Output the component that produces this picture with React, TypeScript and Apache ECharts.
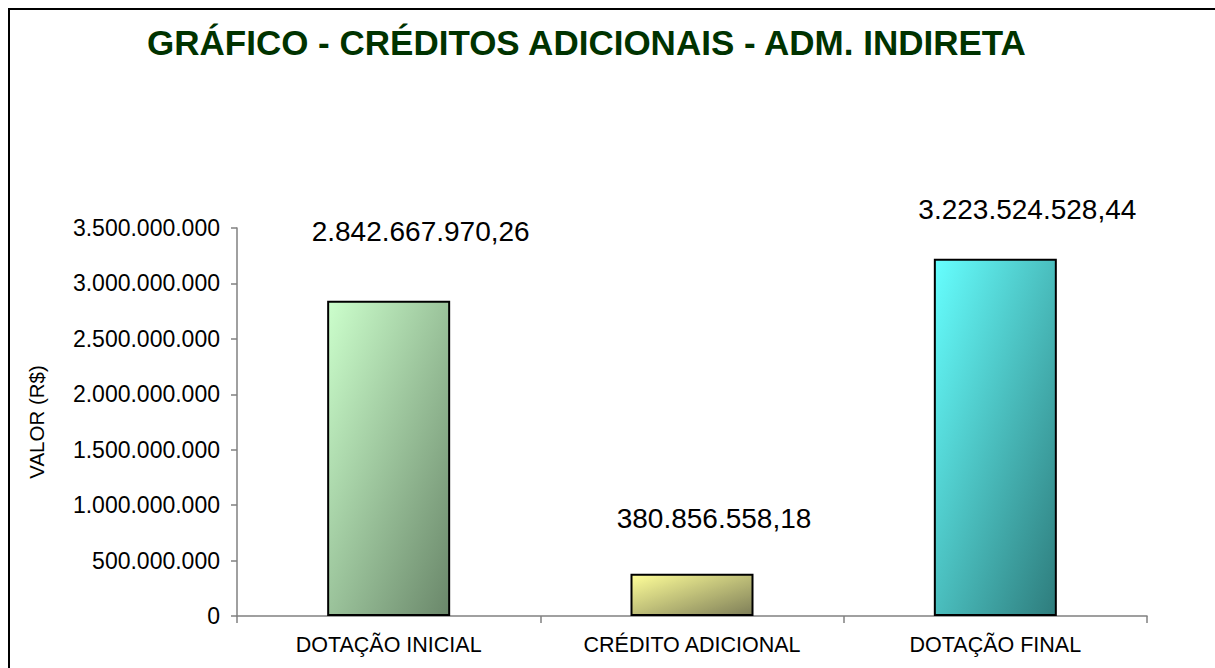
import React, { useEffect, useRef } from "react";
import * as echarts from "echarts";

const categories = ["DOTAÇÃO INICIAL", "CRÉDITO ADICIONAL", "DOTAÇÃO FINAL"];
const values = [2842667970.26, 380856558.18, 3223524528.44];
const valueLabels = ["2.842.667.970,26", "380.856.558,18", "3.223.524.528,44"];
const labelDistances = [55, 41, 35];
const labelShiftX = [32, 22, 32];
const barColors: [string, string][] = [
  ["#CCFFCC", "#6A876A"],
  ["#FFFF99", "#7E7E58"],
  ["#66FFFF", "#2E7C7C"],
];

function fmt(v: number): string {
  return Math.round(v)
    .toString()
    .replace(/\B(?=(\d{3})+(?!\d))/g, ".");
}

export default function App() {
  const ref = useRef<HTMLDivElement>(null);
  useEffect(() => {
    if (!ref.current) return;
    const chart = echarts.init(ref.current, undefined, { renderer: "svg" });
    const font = "'Liberation Sans', Arial, sans-serif";
    chart.setOption({
      animation: false,
      backgroundColor: "#ffffff",
      title: {
        text: "GRÁFICO - CRÉDITOS ADICIONAIS - ADM. INDIRETA",
        left: 142,
        top: 20,
        textStyle: { fontFamily: font, fontSize: 35, fontWeight: "bold", color: "#003300" },
      },
      graphic: [
        {
          type: "rect",
          shape: { x: 9, y: 9, width: 1400, height: 900 },
          style: { fill: "none", stroke: "#000", lineWidth: 2 },
          silent: true,
          z: 100,
        },
      ],
      grid: { left: 237, right: 68, top: 228, bottom: 52 },
      xAxis: {
        type: "category",
        data: categories,
        axisLine: { lineStyle: { color: "#808080", width: 1.5 } },
        axisTick: { show: true, length: 7, lineStyle: { color: "#808080", width: 1.5 } },
        axisLabel: { fontFamily: font, fontSize: 21.5, color: "#000", margin: 18 },
      },
      yAxis: {
        type: "value",
        min: 0,
        max: 3500000000,
        interval: 500000000,
        name: "VALOR (R$)",
        nameLocation: "middle",
        nameGap: 190,
        nameTextStyle: { fontFamily: font, fontSize: 20.5, color: "#000" },
        axisLine: { show: true, lineStyle: { color: "#808080", width: 1.5 } },
        axisTick: { show: true, length: 6, lineStyle: { color: "#808080", width: 1.5 } },
        splitLine: { show: false },
        axisLabel: {
          fontFamily: font,
          fontSize: 23,
          color: "#000",
          margin: 17,
          formatter: (v: number) => fmt(v),
        },
      },
      series: [
        {
          type: "bar",
          barWidth: 123,
          data: values.map((v, i) => ({
            value: v,
            itemStyle: {
              color: new echarts.graphic.LinearGradient(0, 0, 1, 1, [
                { offset: 0, color: barColors[i][0] },
                { offset: 1, color: barColors[i][1] },
              ]),
              borderColor: "#000",
              borderWidth: 2,
            },
            label: {
              show: true,
              position: "top",
              distance: labelDistances[i],
              offset: [labelShiftX[i], 0],
              formatter: valueLabels[i],
              fontFamily: font,
              fontSize: 28,
              color: "#000",
            },
          })),
        },
      ],
    });
    return () => chart.dispose();
  }, []);
  return (
    <div
      ref={ref}
      style={{ position: "fixed", left: 0, top: 0, width: 1215, height: 668 }}
    />
  );
}
